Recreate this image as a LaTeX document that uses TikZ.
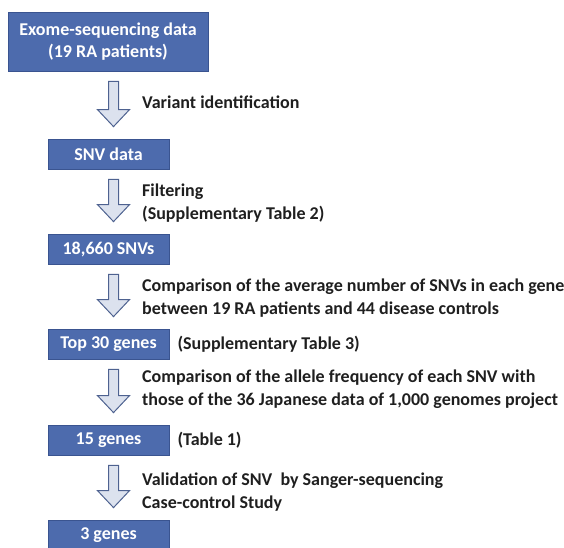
\documentclass[tikz,border=0pt]{standalone}
\usepackage{fontspec}
\setmainfont{Carlito}
\usetikzlibrary{positioning,calc}

\definecolor{boxblue}{HTML}{4D6BAD}
\definecolor{boxedge}{HTML}{3A5490}
\definecolor{arrowfill}{HTML}{DCE2EE}
\definecolor{arrowedge}{HTML}{4E6290}

% hollow block arrow from one box down to the next
\newcommand{\stagearrow}[2]{%
  \draw[hollowarrow] let \p1=(#1.south), \p2=(#2.north) in
    (\x2,\y1-10pt) -- (\x2+10pt,\y1-10pt) -- (\x2+10pt,\y2+29pt)
    -- (\x2+21pt,\y2+29pt) -- (\x2+5pt,\y2+12pt) -- (\x2-11pt,\y2+29pt)
    -- (\x2,\y2+29pt) -- cycle;}

\begin{document}
\begin{tikzpicture}[x=1pt,y=-1pt,
    stage/.style={draw=boxedge,fill=boxblue,text=white,line width=0.8pt,
      font=\fontsize{18}{22}\selectfont\bfseries,
      align=center,minimum width=121pt,minimum height=30pt,inner sep=2pt},
    note/.style={anchor=west,align=left,
      font=\fontsize{18}{23}\selectfont\bfseries,text=black!88,inner sep=0pt},
    hollowarrow/.style={draw=arrowedge,fill=arrowfill,line width=1pt,line join=miter}]

  \useasboundingbox (0,0) rectangle (564,547);

  \node[stage,minimum width=200pt,minimum height=59pt] (exome) at (108,41.5)
    {Exome-sequencing data\\(19 RA patients)};
  \node[stage] (snv) at (108.5,154) {SNV data};
  \node[stage] (filtered) at (108.5,249) {18,660 SNVs};
  \node[stage] (top30) at (108.5,344) {Top 30 genes};
  \node[stage] (fifteen) at (108.5,440) {15 genes};
  \node[stage] (three) at (108.5,535) {3 genes};

  \stagearrow{exome}{snv}
  \stagearrow{snv}{filtered}
  \stagearrow{filtered}{top30}
  \stagearrow{top30}{fifteen}
  \stagearrow{fifteen}{three}

  \node[note] (variant) at (142,102) {Variant identification};
  \node[note] (filtering) at (142,203) {Filtering\\(Supplementary Table 2)};
  \node[note] (average) at (142,298) {Comparison of the average number of SNVs in each gene\\between 19 RA patients and 44 disease controls};
  \node[note] (supp3) [right=8pt of top30] {(Supplementary Table 3)};
  \node[note] (allele) at (142,389) {Comparison of the allele frequency of each SNV with\\those of the 36 Japanese data of 1,000 genomes project};
  \node[note] (table1) [right=8pt of fifteen] {(Table 1)};
  \node[note] (validation) at (142,492) {Validation of SNV~~by Sanger-sequencing\\Case-control Study};

\end{tikzpicture}
\end{document}
